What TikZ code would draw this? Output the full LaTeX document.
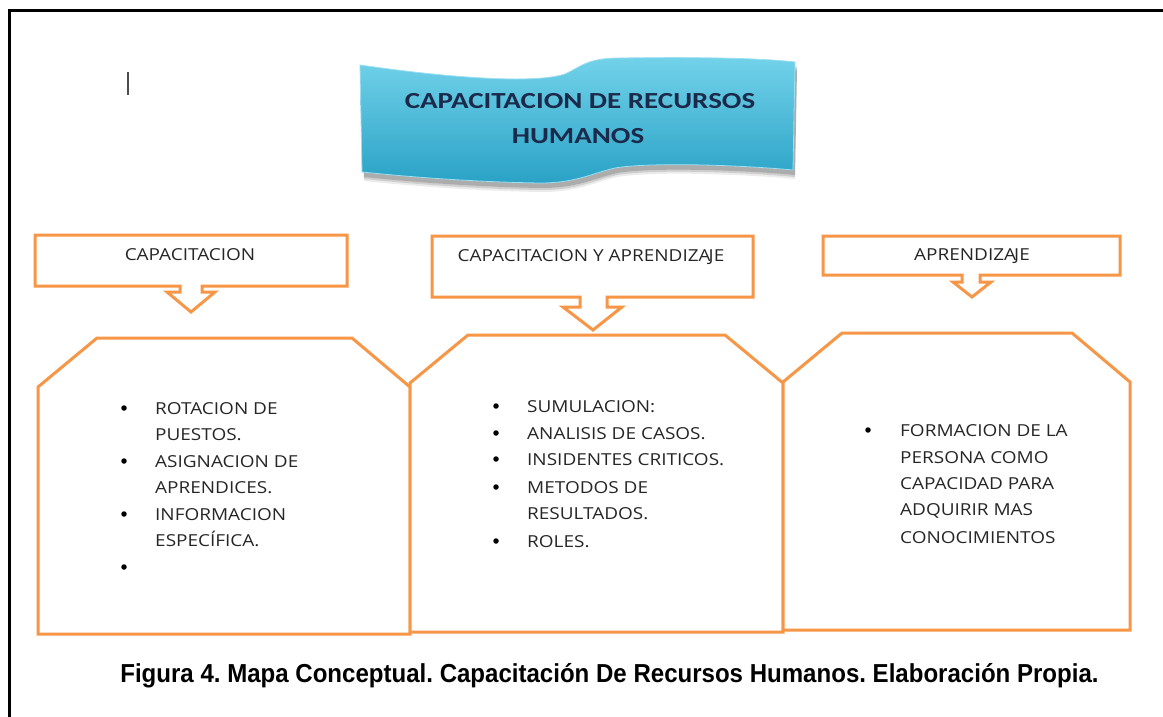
\documentclass[tikz,border=0pt]{standalone}
\usepackage{fontspec}
\newfontfamily\boxfont[FakeStretch=1.15,Kerning=Off]{Open Sans}
\newfontfamily\titlefont[FakeStretch=1.26]{Carlito}
\newfontfamily\capfont[FakeStretch=0.925]{Liberation Sans}
\newcommand\myJ{\kern-2pt J}
\definecolor{boxorange}{HTML}{F79646}
\definecolor{textgray}{HTML}{262626}
\definecolor{titlenavy}{HTML}{1B2A4A}
\definecolor{bannertop}{HTML}{72D2EA}
\definecolor{bannermid}{HTML}{3FBCDC}
\definecolor{bannerbot}{HTML}{2AA2C6}
\frenchspacing
\begin{document}
\begin{tikzpicture}[x=1pt,y=-1pt,
  orangeline/.style={draw=boxorange, line width=3pt, line join=miter, fill=white},
  boxtext/.style={font=\boxfont\fontsize{16.5}{20}\selectfont, inner sep=0pt, anchor=base west, text=textgray},
  headtext/.style={font=\boxfont\fontsize{16.5}{20}\selectfont, inner sep=0pt, anchor=base, text=textgray},
  bulletdot/.style={circle, fill=black, inner sep=0pt, minimum size=5.5pt},
  titletext/.style={font=\titlefont\bfseries\fontsize{23}{28}\selectfont, inner sep=0pt, anchor=base, text=titlenavy}
]
\useasboundingbox (0,0) rectangle (1163,717);
\fill[white] (0,0) rectangle (1163,717);
% outer frame
\draw[line width=3pt] (9,720) -- (9,11) -- (1166,11);
% cursor
\draw[gray!60!black, line width=1.3pt] (128,72) -- (128,95);

% banner shadow
\foreach \o/\op in {9/0.08,7/0.12,5/0.16}{
  \fill[black, opacity=\op, shift={(2,\o)}]
    (360,65) .. controls (450,78) and (535,84) .. (565,74) .. controls (582,66) and (588,58) .. (620,58) .. controls (700,57) and (760,58) .. (795,62)
    -- (793,170) .. controls (740,165) and (650,162) .. (615,168) .. controls (590,174) and (575,183) .. (540,183) .. controls (470,182) and (400,176) .. (362,172) -- cycle;
}
% banner
\shade[top color=bannertop, middle color=bannermid, bottom color=bannerbot, draw=bannertop!70!white, line width=0.8pt]
    (360,65) .. controls (450,78) and (535,84) .. (565,74) .. controls (582,66) and (588,58) .. (620,58) .. controls (700,57) and (760,58) .. (795,62)
    -- (793,170) .. controls (740,165) and (650,162) .. (615,168) .. controls (590,174) and (575,183) .. (540,183) .. controls (470,182) and (400,176) .. (362,172) -- cycle;
\node[titletext] (t1) at (580,108.5) {CAPACITACION DE RECURSOS};
\node[titletext] (t2) at (578,143.5) {HUMANOS};

% header callouts
\draw[orangeline] (35,235) -- (347,235) -- (347,286) -- (202,286) -- (202,292) -- (215,292) -- (191,312) -- (167,292) -- (180,292) -- (180,286) -- (35,286) -- cycle;
\draw[orangeline] (432,236) -- (753,236) -- (753,297) -- (607,297) -- (607,307) -- (622,307) -- (593,330) -- (563,307) -- (580,307) -- (580,297) -- (432,297) -- cycle;
\draw[orangeline] (823,236) -- (1120,236) -- (1120,275) -- (980,275) -- (980,282) -- (991,282) -- (972,297) -- (953,282) -- (962,282) -- (962,275) -- (823,275) -- cycle;
\node[headtext] (h1) at (190,260) {CAPACITACION};
\node[headtext] (h2) at (591,261) {CAPACITACION Y APRENDIZA\myJ E};
\node[headtext] (h3) at (972,260) {APRENDIZA\myJ E};

% content boxes
\draw[orangeline] (38,634) -- (38,387) -- (97,338) -- (352,338) -- (410,387) -- (410,634) -- cycle;
\draw[orangeline] (410,632) -- (410,383) -- (468,335) -- (725,335) -- (783,383) -- (783,632) -- cycle;
\draw[orangeline] (783,630) -- (783,382) -- (842,333) -- (1072,333) -- (1130,382) -- (1130,630) -- cycle;

% box A
\node[bulletdot] (a1b) at (124,408) {};
\node[boxtext] (a1) at (155,414) {ROTACION DE};
\node[boxtext] (a2) at (155,440) {PUESTOS.};
\node[bulletdot] (a3b) at (124,461) {};
\node[boxtext] (a3) at (155,467) {ASIGNACION DE};
\node[boxtext] (a4) at (155,493) {APRENDICES.};
\node[bulletdot] (a5b) at (124,514) {};
\node[boxtext] (a5) at (155,520) {INFORMACION};
\node[boxtext] (a6) at (155,546) {ESPECÍFICA.};
\node[bulletdot] (a7b) at (124,567) {};

% box B
\node[bulletdot] (b1b) at (496,406) {};
\node[boxtext] (b1) at (527,412) {SUMULACION:};
\node[bulletdot] (b2b) at (496,433) {};
\node[boxtext] (b2) at (527,439) {ANALISIS DE CASOS.};
\node[bulletdot] (b3b) at (496,459) {};
\node[boxtext] (b3) at (527,465) {INSIDENTES CRITICOS.};
\node[bulletdot] (b4b) at (496,487) {};
\node[boxtext] (b4) at (527,493) {METODOS DE};
\node[boxtext] (b5) at (527,519) {RESULTADOS.};
\node[bulletdot] (b6b) at (496,541) {};
\node[boxtext] (b6) at (527,547) {ROLES.};

% box C
\node[bulletdot] (c1b) at (868,430) {};
\node[boxtext] (c1) at (900,436) {FORMACION DE LA};
\node[boxtext] (c2) at (900,463) {PERSONA COMO};
\node[boxtext] (c3) at (900,489) {CAPACIDAD PARA};
\node[boxtext] (c4) at (900,515) {ADQUIRIR MAS};
\node[boxtext] (c5) at (900,543) {CONOCIMIENTOS};

% caption
\node[font=\capfont\bfseries\fontsize{26}{30}\selectfont, inner sep=0pt, anchor=base, text=black] (cap) at (609.5,682)
  {Figura 4. Mapa Conceptual. Capacitación De Recursos Humanos. Elaboración Propia.};
\end{tikzpicture}
\end{document}
